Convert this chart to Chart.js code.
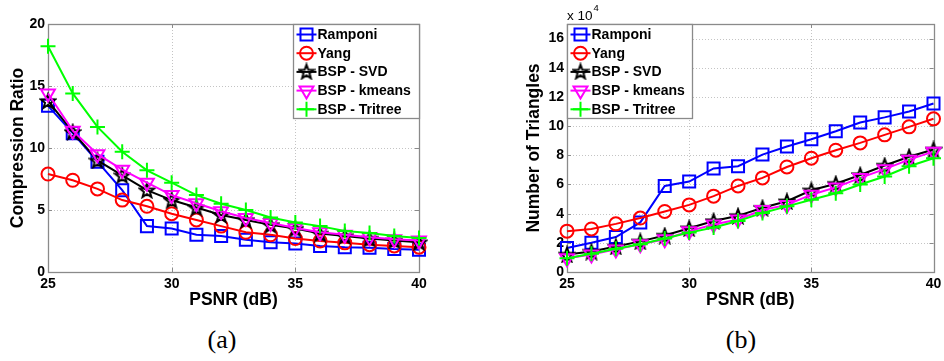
<!DOCTYPE html>
<html>
<head>
<meta charset="utf-8">
<script src="https://cdn.jsdelivr.net/npm/chart.js@4.4.0/dist/chart.umd.min.js"></script>
<style>
  body { margin: 0; background: #fff; }
  #wrap { position: relative; width: 944px; height: 361px; overflow: hidden; background: #fff; }
  canvas { position: absolute; top: 0; }
  #ratioChart { left: 0; }
  #triChart { left: 470px; }
  .caption { position: absolute; top: 325px; font: 26px "Liberation Serif", "DejaVu Serif", serif; color: #000; transform: translateX(-50%); }
</style>
</head>
<body>
<div id="wrap">
  <canvas id="ratioChart" width="470" height="320"></canvas>
  <canvas id="triChart" width="474" height="320"></canvas>
  <div class="caption" style="left:222px">(a)</div>
  <div class="caption" style="left:741px">(b)</div>
</div>
<script>
// PSNR levels (dB)
const psnr = [25, 26, 27, 28, 29, 30, 31, 32, 33, 34, 35, 36, 37, 38, 39, 40];

const methods = ["Ramponi", "Yang", "BSP - SVD", "BSP - kmeans", "BSP - Tritree"];

// compression ratio per method
const ratioRamponi = [13.4, 11.2, 8.9, 6.6, 3.7, 3.5, 3.0, 2.9, 2.6, 2.4, 2.3, 2.1, 2.0, 1.95, 1.85, 1.8];
const ratioYang    = [7.9, 7.4, 6.7, 5.8, 5.3, 4.7, 4.2, 3.7, 3.2, 3.0, 2.7, 2.5, 2.35, 2.2, 2.1, 2.0];
const ratioSvd     = [13.8, 11.3, 9.0, 7.8, 6.6, 5.8, 5.2, 4.6, 4.2, 3.8, 3.5, 3.1, 2.9, 2.7, 2.55, 2.4];
const ratioKmeans  = [14.4, 11.4, 9.5, 8.25, 7.2, 6.2, 5.55, 4.9, 4.35, 3.95, 3.55, 3.2, 3.0, 2.8, 2.65, 2.55];
const ratioTritree = [18.2, 14.4, 11.7, 9.7, 8.2, 7.2, 6.2, 5.5, 5.0, 4.4, 4.0, 3.7, 3.3, 3.15, 2.9, 2.75];

// number of triangles, in units of 10^4
const trisRamponi = [1.65, 2.0, 2.4, 3.4, 5.9, 6.2, 7.1, 7.25, 8.05, 8.6, 9.1, 9.65, 10.25, 10.6, 11.0, 11.55];
const trisYang    = [2.8, 2.95, 3.3, 3.7, 4.15, 4.6, 5.2, 5.9, 6.45, 7.2, 7.8, 8.35, 8.85, 9.4, 9.95, 10.5];
const trisSvd     = [1.2, 1.4, 1.75, 2.1, 2.5, 3.0, 3.5, 3.85, 4.4, 4.85, 5.6, 6.05, 6.65, 7.3, 7.9, 8.4];
const trisKmeans  = [0.95, 1.2, 1.55, 1.9, 2.25, 2.8, 3.25, 3.6, 4.25, 4.6, 5.3, 5.8, 6.45, 7.05, 7.7, 8.25];
const trisTritree = [0.95, 1.25, 1.6, 1.9, 2.3, 2.7, 3.05, 3.5, 4.05, 4.5, 4.95, 5.4, 6.0, 6.55, 7.25, 7.8];

const xTicks = [25, 30, 35, 40];
const ratioTicks = [0, 5, 10, 15, 20];
const trisTicks = [0, 2, 4, 6, 8, 10, 12, 14, 16];

const colors = ["#0000ff", "#ff0000", "#000000", "#ff00ff", "#00ff00"];
const tickFont = { family: "'Liberation Sans', Arial, sans-serif", size: 14, weight: "bold" };
const boldFont = "bold 17.5px 'Liberation Sans', Arial, sans-serif";

// MATLAB style hollow pentagram
function makeStar(color) {
  const c = document.createElement("canvas");
  c.width = c.height = 18;
  const g = c.getContext("2d");
  const r = 7.5, ri = r * 0.42;
  g.beginPath();
  for (let i = 0; i < 10; i++) {
    const rr = i % 2 ? ri : r;
    const a = -Math.PI / 2 + i * Math.PI / 5;
    g.lineTo(9 + rr * Math.cos(a), 9.8 + rr * Math.sin(a));
  }
  g.closePath();
  g.strokeStyle = color;
  g.lineWidth = 2;
  g.lineJoin = "miter";
  g.stroke();
  return c;
}
const star = makeStar("#000");

const markers = [
  { pointStyle: "rect", pointRadius: 8.5, pointRotation: 0 },
  { pointStyle: "circle", pointRadius: 6.5, pointRotation: 0 },
  { pointStyle: star, pointRadius: 8, pointRotation: 0 },
  { pointStyle: "triangle", pointRadius: 8, pointRotation: 180 },
  { pointStyle: "cross", pointRadius: 7.5, pointRotation: 0 }
];

function buildSets(series) {
  return series.map((vals, i) => Object.assign({
    label: methods[i],
    data: vals.map((v, k) => ({ x: psnr[k], y: v })),
    borderColor: colors[i],
    backgroundColor: "transparent",
    pointBorderColor: colors[i],
    pointBackgroundColor: "transparent",
    pointBorderWidth: 2,
    pointHoverRadius: 8,
    borderWidth: 2,
    tension: 0,
    clip: false,
    order: 5 - i
  }, markers[i]));
}

function legendMarker(ctx, i, x, y) {
  ctx.strokeStyle = colors[i];
  ctx.lineWidth = 2;
  ctx.beginPath();
  if (i === 0) {
    ctx.rect(x - 6, y - 6, 12, 12);
  } else if (i === 1) {
    ctx.arc(x, y, 6.5, 0, Math.PI * 2);
  } else if (i === 2) {
    ctx.drawImage(star, x - 9, y - 9.5);
    return;
  } else if (i === 3) {
    ctx.moveTo(x - 7, y - 4);
    ctx.lineTo(x + 7, y - 4);
    ctx.lineTo(x, y + 8);
    ctx.closePath();
  } else {
    ctx.moveTo(x - 7.5, y); ctx.lineTo(x + 7.5, y);
    ctx.moveTo(x, y - 7.5); ctx.lineTo(x, y + 7.5);
  }
  ctx.stroke();
}

// axes box, dotted grid, inward ticks, titles and legend
const frame = {
  id: "frame",
  beforeDatasetsDraw(chart, args, opts) {
    const { ctx, chartArea: a, scales: { x, y } } = chart;
    ctx.save();
    ctx.lineWidth = 1;
    ctx.strokeStyle = "#c4c4c4";
    ctx.setLineDash([1, 2]);
    ctx.beginPath();
    x.ticks.forEach(t => {
      const px = Math.round(x.getPixelForValue(t.value)) + 0.5;
      if (px > a.left + 2 && px < a.right - 2) { ctx.moveTo(px, a.top); ctx.lineTo(px, a.bottom); }
    });
    y.ticks.forEach(t => {
      const py = Math.round(y.getPixelForValue(t.value)) + 0.5;
      if (py > a.top + 2 && py < a.bottom - 2) { ctx.moveTo(a.left, py); ctx.lineTo(a.right, py); }
    });
    ctx.stroke();
    ctx.setLineDash([]);
    ctx.strokeStyle = "#8a8a8a";
    ctx.beginPath();
    x.ticks.forEach(t => {
      const px = Math.round(x.getPixelForValue(t.value)) + 0.5;
      ctx.moveTo(px, a.bottom); ctx.lineTo(px, a.bottom - 4);
      ctx.moveTo(px, a.top); ctx.lineTo(px, a.top + 4);
    });
    y.ticks.forEach(t => {
      const py = Math.round(y.getPixelForValue(t.value)) + 0.5;
      ctx.moveTo(a.left, py); ctx.lineTo(a.left + 4, py);
      ctx.moveTo(a.right, py); ctx.lineTo(a.right - 4, py);
    });
    ctx.stroke();
    ctx.lineWidth = 1.3;
    ctx.strokeRect(Math.round(a.left) + 0.5, Math.round(a.top) + 0.5,
      Math.round(a.right - a.left), Math.round(a.bottom - a.top));
    ctx.restore();
  },
  afterDraw(chart, args, opts) {
    const { ctx, chartArea: a } = chart;
    ctx.save();
    ctx.fillStyle = "#000";
    ctx.font = boldFont;
    ctx.textAlign = "center";
    ctx.textBaseline = "middle";
    ctx.fillText(opts.xTitle, (a.left + a.right) / 2, a.bottom + 28);
    ctx.translate(opts.yTitleX, (a.top + a.bottom) / 2);
    ctx.rotate(-Math.PI / 2);
    ctx.fillText(opts.yTitle, 0, 0);
    ctx.restore();

    if (opts.exponent) {
      ctx.save();
      ctx.fillStyle = "#000";
      ctx.textBaseline = "alphabetic";
      ctx.font = "13.5px 'Liberation Sans', Arial, sans-serif";
      ctx.fillText("x 10", a.left, a.top - 4);
      const w = ctx.measureText("x 10").width;
      ctx.font = "9.5px 'Liberation Sans', Arial, sans-serif";
      ctx.fillText(opts.exponent, a.left + w + 1, a.top - 13);
      ctx.restore();
    }

    // legend box
    const lw = opts.legendWidth, lh = 94;
    const lx = opts.legendSide === "right" ? Math.round(a.right) - lw : Math.round(a.left);
    const ly = Math.round(a.top);
    ctx.save();
    ctx.fillStyle = "#fff";
    ctx.fillRect(lx + 0.5, ly + 0.5, lw, lh);
    ctx.strokeStyle = "#8a8a8a";
    ctx.lineWidth = 1.3;
    ctx.strokeRect(lx + 0.5, ly + 0.5, lw, lh);
    ctx.font = "bold 14px 'Liberation Sans', Arial, sans-serif";
    ctx.textBaseline = "middle";
    methods.forEach((name, i) => {
      const my = ly + 10.5 + i * 18.7;
      const mx = lx + 13.5;
      ctx.strokeStyle = colors[i];
      ctx.lineWidth = 2;
      ctx.beginPath();
      ctx.moveTo(mx - 10, my); ctx.lineTo(mx + 10, my);
      ctx.stroke();
      legendMarker(ctx, i, mx, my);
      ctx.fillStyle = "#000";
      ctx.fillText(name, mx + 11, my + 0.5);
    });
    ctx.restore();
  }
};

function makeChart(id, series, yMax, yTicks, yWidth, padRight, pluginOpts) {
  return new Chart(document.getElementById(id), {
    type: "line",
    data: { datasets: buildSets(series) },
    options: {
      responsive: false,
      animation: false,
      events: [],
      layout: { padding: { top: 24, right: padRight, bottom: 0, left: 0 } },
      plugins: { legend: { display: false }, tooltip: { enabled: false }, frame: pluginOpts },
      scales: {
        x: {
          type: "linear", min: 25, max: 40,
          grid: { display: false, drawTicks: false, tickLength: 0 }, border: { display: false },
          afterBuildTicks: s => { s.ticks = xTicks.map(v => ({ value: v })); },
          afterFit: s => { s.height = 48; s.paddingLeft = 0; s.paddingRight = 0; },
          ticks: { font: tickFont, color: "#000", padding: 4, maxRotation: 0, autoSkip: false }
        },
        y: {
          type: "linear", min: 0, max: yMax,
          grid: { display: false, drawTicks: false, tickLength: 0 }, border: { display: false },
          afterBuildTicks: s => { s.ticks = yTicks.map(v => ({ value: v })); },
          afterFit: s => { s.width = yWidth; s.paddingTop = 0; s.paddingBottom = 0; },
          ticks: { font: tickFont, color: "#000", padding: 3, autoSkip: false }
        }
      }
    },
    plugins: [frame]
  });
}

makeChart("ratioChart",
  [ratioRamponi, ratioYang, ratioSvd, ratioKmeans, ratioTritree],
  20, ratioTicks, 48, 51,
  { xTitle: "PSNR (dB)", yTitle: "Compression Ratio", yTitleX: 18, legendSide: "right", legendWidth: 126 });

makeChart("triChart",
  [trisRamponi, trisYang, trisSvd, trisKmeans, trisTritree],
  17, trisTicks, 97, 7.5,
  { xTitle: "PSNR (dB)", yTitle: "Number of Triangles", yTitleX: 64, legendSide: "left", legendWidth: 125, exponent: "4" });
</script>
</body>
</html>
